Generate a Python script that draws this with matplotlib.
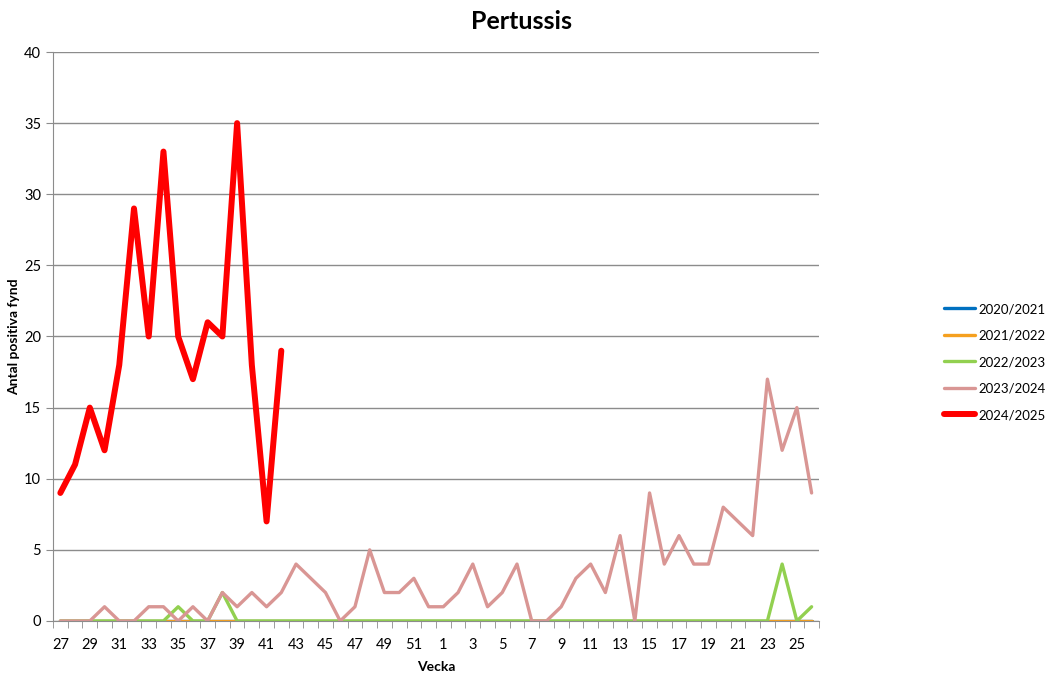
"""Pertussis: positive findings per week, season comparison"""

import matplotlib
matplotlib.use('Agg')
import matplotlib.pyplot as plt
import numpy as np

plt.rcParams['font.family'] = ['Lato', 'DejaVu Sans']

weeks = list(range(27, 53)) + list(range(1, 27))

s2020 = [0] * 52
s2021 = [0] * 52
s2022 = [0, 0, 0, 0, 0, 0, 0, 0, 1, 0, 0, 2, 0, 0, 0, 0, 0, 0, 0, 0,
         0, 0, 0, 0, 0, 0,
         0, 0, 0, 0, 0, 0, 0, 0, 0, 0, 0, 0, 0, 0, 0, 0, 0, 0, 0, 0,
         0, 0, 0, 4, 0, 1]
s2023 = [0, 0, 0, 1, 0, 0, 1, 1, 0, 1, 0, 2, 1, 2, 1, 2, 4, 3, 2, 0,
         1, 5, 2, 2, 3, 1,
         1, 2, 4, 1, 2, 4, 0, 0, 1, 3, 4, 2, 6, 0, 9, 4, 6, 4, 4, 8,
         7, 6, 17, 12, 15, 9]
s2024 = [9, 11, 15, 12, 18, 29, 20, 33, 20, 17, 21, 20, 35, 18, 7, 19]

series = [
    ('2020/2021', s2020, '#0070C0', 2.4),
    ('2021/2022', s2021, '#F5A01F', 2.4),
    ('2022/2023', s2022, '#92D050', 2.4),
    ('2023/2024', s2023, '#D99694', 2.4),
    ('2024/2025', s2024, '#FF0000', 4.3),
]

fig = plt.figure(figsize=(10.47, 6.78), dpi=100)
ax = fig.add_axes([0.0506, 0.0841, 0.7316, 0.8392])

x = np.arange(len(weeks))
for label, vals, color, lw in series:
    ax.plot(x[:len(vals)], vals, color=color, lw=lw, label=label,
            solid_joinstyle='round', solid_capstyle='round')

ax.set_xlim(-0.5, len(weeks) - 0.5)
ax.set_ylim(0, 40)
ax.set_yticks(np.arange(0, 41, 5))
ax.yaxis.grid(True, color='#8c8c8c', lw=1)
ax.set_axisbelow(True)

ax.set_xticks(x[::2])
ax.set_xticklabels([str(w) for w in weeks[::2]])
ax.set_xticks(np.arange(-0.5, len(weeks), 1), minor=True)
ax.tick_params(axis='x', which='major', length=0, labelsize=10.5, pad=12)
ax.tick_params(axis='x', which='minor', length=5, color='#8c8c8c')
ax.tick_params(axis='y', length=5, color='#8c8c8c', labelsize=10.5)

for side in ['top', 'right']:
    ax.spines[side].set_visible(False)
for side in ['left', 'bottom']:
    ax.spines[side].set_color('#8c8c8c')

ax.set_xlabel('Vecka', fontweight='bold', fontsize=10, labelpad=7)
ax.set_ylabel('Antal positiva fynd', fontweight='bold', fontsize=10, labelpad=3)
fig.suptitle('Pertussis', fontweight='bold', fontsize=18, x=0.498, y=0.985)

fig.legend(loc='center left', bbox_to_anchor=(0.89, 0.466), frameon=False,
           fontsize=9.5, labelspacing=1.1, handlelength=2.4, handletextpad=0.2)

fig.savefig('out.png', dpi=100)
